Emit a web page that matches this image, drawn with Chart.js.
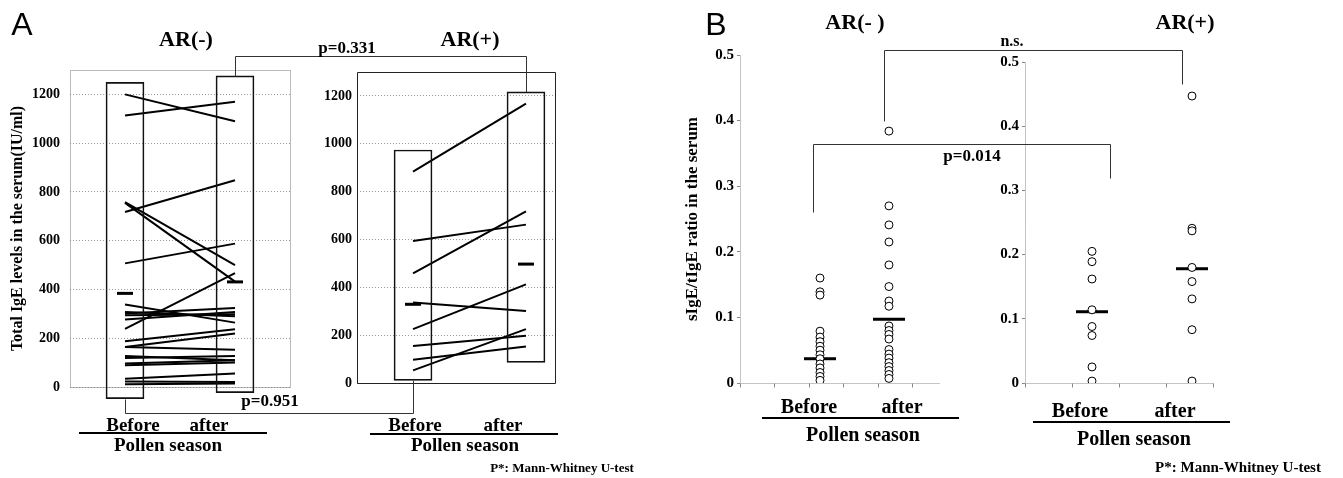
<!DOCTYPE html>
<html>
<head>
<meta charset="utf-8">
<script src="https://cdn.jsdelivr.net/npm/chart.js@4.4.1/dist/chart.umd.min.js"></script>
<style>
  body { margin: 0; background: #fff; width: 1343px; height: 478px; overflow: hidden; position: relative;
         font-family: "Liberation Serif", "DejaVu Serif", serif; }
  canvas { position: absolute; }
  .t { position: absolute; transform: translate(-50%, -50%); font-weight: bold; white-space: nowrap; color: #000; line-height: 1; }
  .u { position: absolute; height: 2px; background: #000; }
</style>
</head>
<body>
<canvas id="al" width="300" height="420" style="left:0;top:0"></canvas>
<canvas id="ar" width="270" height="420" style="left:290px;top:0"></canvas>
<canvas id="bl" width="265" height="400" style="left:680px;top:0"></canvas>
<canvas id="br" width="235" height="400" style="left:985px;top:0"></canvas>
<canvas id="ov" width="1343" height="478" style="left:0;top:0;pointer-events:none"></canvas>

<div class="t" style="left:22px;top:24px;font:32px 'Liberation Sans',sans-serif">A</div>
<div class="t" style="left:716px;top:24px;font:32px 'Liberation Sans',sans-serif">B</div>

<div class="t" style="left:186px;top:39px;font-size:22px">AR(-)</div>
<div class="t" style="left:470px;top:39px;font-size:22px">AR(+)</div>
<div class="t" style="left:347px;top:47px;font-size:17px">p=0.331</div>
<div class="t" style="left:270px;top:400px;font-size:17px">p=0.951</div>

<div class="t" style="left:133px;top:424px;font-size:19px">Before</div>
<div class="t" style="left:209px;top:424px;font-size:19px">after</div>
<div class="u" style="left:79px;top:432px;width:188px"></div>
<div class="t" style="left:168px;top:444px;font-size:19px">Pollen season</div>

<div class="t" style="left:415px;top:424px;font-size:19px">Before</div>
<div class="t" style="left:503px;top:424px;font-size:19px">after</div>
<div class="u" style="left:370px;top:433px;width:188px"></div>
<div class="t" style="left:465px;top:444px;font-size:19px">Pollen season</div>
<div class="t" style="left:562px;top:467px;font-size:13px">P*: Mann-Whitney U-test</div>

<div class="t" style="left:855px;top:22px;font-size:22px">AR(- )</div>
<div class="t" style="left:1185px;top:22px;font-size:22px">AR(+)</div>
<div class="t" style="left:1012px;top:41px;font-size:16px">n.s.</div>
<div class="t" style="left:972px;top:155px;font-size:17px">p=0.014</div>

<div class="t" style="left:809px;top:406px;font-size:20px">Before</div>
<div class="t" style="left:902px;top:406px;font-size:20px">after</div>
<div class="u" style="left:762px;top:417px;width:197px"></div>
<div class="t" style="left:863px;top:434px;font-size:20px">Pollen season</div>

<div class="t" style="left:1080px;top:410px;font-size:20px">Before</div>
<div class="t" style="left:1175px;top:410px;font-size:20px">after</div>
<div class="u" style="left:1033px;top:421px;width:197px"></div>
<div class="t" style="left:1134px;top:438px;font-size:20px">Pollen season</div>
<div class="t" style="left:1238px;top:467px;font-size:15px">P*: Mann-Whitney U-test</div>

<script>
'use strict';

// x positions: Before = 1, after = 2
const seasons = ['Before', 'after'];

// Panel A: total IgE (IU/ml), one pair per subject
const igeNegBefore = [1200, 1113, 718, 758, 755, 507, 238, 338, 308, 301, 294, 277, 188, 164, 164, 127, 119, 96, 89, 34, 23, 11];
const igeNegAfter  = [1090, 1170, 848, 500, 432, 588, 467, 264, 290, 324, 298, 308, 237, 219, 153, 110, 127, 110, 100, 55, 21, 14];
const igePosBefore = [884, 594, 458, 337, 225, 155, 97, 53];
const igePosAfter  = [1168, 662, 717, 301, 412, 198, 153, 225];
const igeNegMedian = [384, 431];
const igePosMedian = [329, 497];
const igeNegRange = [[-48, 1249], [-23, 1276]];
const igePosRange = [[11, 974], [86, 1217]];
const igeTicks = [0, 200, 400, 600, 800, 1000, 1200];

// Panel B: sIgE/tIgE ratio
const ratioNegBefore = [0.160, 0.139, 0.134, 0.079, 0.070, 0.063, 0.056, 0.050, 0.043, 0.037, 0.029, 0.023, 0.016, 0.010, 0.004];
const ratioNegAfter  = [0.384, 0.270, 0.241, 0.215, 0.180, 0.147, 0.125, 0.117, 0.087, 0.080, 0.074, 0.067, 0.051, 0.044, 0.038, 0.031, 0.025, 0.019, 0.013, 0.007];
const ratioPosBefore = [0.205, 0.189, 0.162, 0.114, 0.088, 0.074, 0.025, 0.003];
const ratioPosAfter  = [0.447, 0.241, 0.237, 0.180, 0.158, 0.131, 0.083, 0.003];
const ratioNegMedian = [0.037, 0.097];
const ratioPosMedian = [0.111, 0.178];
const ratioTicks = [0, 0.1, 0.2, 0.3, 0.4, 0.5];

const SERIF = '"Liberation Serif", "DejaVu Serif", serif';

// draws the plot frame (all sides or left+bottom only), plus small x tick marks
const frame = {
  id: 'frame',
  beforeDatasetsDraw(chart, args, o) {
    const a = chart.chartArea, ctx = chart.ctx;
    ctx.save();
    ctx.strokeStyle = o.color;
    ctx.lineWidth = 1;
    ctx.setLineDash(o.dash || []);
    ctx.beginPath();
    const l = Math.round(a.left) + 0.5, r = Math.round(a.right) + 0.5;
    const t = Math.round(a.top) + 0.5, b = Math.round(a.bottom) + 0.5;
    if (o.all) {
      ctx.rect(l, t, r - l, b - t);
    } else {
      ctx.moveTo(l, t); ctx.lineTo(l, b); ctx.lineTo(r, b);
    }
    ctx.stroke();
    if (o.xTickStep) {
      ctx.setLineDash([]);
      ctx.beginPath();
      const sx = chart.scales.x;
      for (let v = sx.min; v <= sx.max + 1e-6; v += o.xTickStep) {
        const x = Math.round(sx.getPixelForValue(v)) + 0.5;
        ctx.moveTo(x, b); ctx.lineTo(x, b + 4);
      }
      ctx.stroke();
    }
    ctx.restore();
  }
};

function igeChart(id, before, after, median, range, opt) {
  const datasets = [];
  datasets.push({
    type: 'bar',
    data: range.map((r, i) => ({ x: i + 1, y: r })),
    backgroundColor: 'rgba(0,0,0,0)',
    borderColor: '#111',
    borderWidth: 1,
    borderSkipped: false,
    barThickness: 38,
    clip: false
  });
  before.forEach((b, i) => {
    datasets.push({
      type: 'line',
      data: [{ x: 1, y: b }, { x: 2, y: after[i] }],
      borderColor: '#000',
      borderWidth: 2,
      pointRadius: 0
    });
  });
  datasets.push({
    type: 'line',
    showLine: false,
    data: median.map((m, i) => ({ x: i + 1, y: m })),
    pointStyle: 'line',
    pointRadius: 8,
    pointBorderWidth: 3,
    borderWidth: 3,
    borderColor: '#000'
  });

  return new Chart(document.getElementById(id), {
    type: 'line',
    data: { datasets },
    plugins: [frame],
    options: {
      responsive: false,
      animation: false,
      layout: { padding: opt.padding, autoPadding: false },
      plugins: {
        legend: { display: false },
        tooltip: { enabled: false },
        frame: opt.frame
      },
      scales: {
        x: { type: 'linear', display: false, min: opt.xMin, max: opt.xMax, offset: false },
        y: {
          min: 0, max: 1300,
          afterBuildTicks: s => { s.ticks = igeTicks.map(v => ({ value: v })); },
          afterFit: s => { s.width = opt.yWidth; },
          border: { display: false, dash: [1, 2] },
          grid: { color: '#999', drawTicks: false, lineWidth: 1 },
          ticks: {
            color: '#000', padding: opt.tickPad,
            font: { family: SERIF, size: 14, weight: 'bold' },
            callback: v => String(v)
          },
          title: opt.title ? {
            display: true, text: opt.title, color: '#000', padding: { top: 8, bottom: 0 },
            font: { family: SERIF, size: 16, weight: 'bold' }
          } : { display: false }
        }
      }
    }
  });
}

function ratioChart(id, before, after, median, opt) {
  const dots = (x, values) => ({
    type: 'line',
    showLine: false,
    data: values.map(v => ({ x, y: v })),
    pointStyle: 'circle',
    pointRadius: 4,
    pointBorderWidth: 1,
    pointBackgroundColor: '#fff',
    pointBorderColor: '#000'
  });
  const datasets = [
    dots(1, before),
    dots(2, after),
    {
      type: 'line',
      showLine: false,
      data: median.map((m, i) => ({ x: i + 1, y: m })),
      pointStyle: 'line',
      pointRadius: 16,
      pointBorderWidth: 3,
      borderWidth: 3,
      borderColor: '#000'
    }
  ];

  return new Chart(document.getElementById(id), {
    type: 'line',
    data: { datasets },
    plugins: [frame],
    options: {
      responsive: false,
      animation: false,
      layout: { padding: opt.padding, autoPadding: false },
      plugins: {
        legend: { display: false },
        tooltip: { enabled: false },
        frame: { color: '#888', dash: [1, 1], all: false, xTickStep: opt.xTickStep }
      },
      scales: {
        x: { type: 'linear', display: false, min: opt.xMin, max: opt.xMax, offset: false },
        y: {
          min: 0, max: 0.5,
          afterBuildTicks: s => { s.ticks = ratioTicks.map(v => ({ value: v })); },
          afterFit: s => { s.width = opt.yWidth; },
          border: { display: false },
          grid: { drawOnChartArea: false, tickLength: 3, color: '#888' },
          ticks: {
            color: '#000', padding: 3,
            font: { family: SERIF, size: 15, weight: 'bold' },
            callback: v => (v === 0 ? '0' : Number(v).toFixed(1))
          },
          title: opt.title ? {
            display: true, text: opt.title, color: '#000', padding: { top: 2, bottom: 0 },
            font: { family: SERIF, size: 17, weight: 'bold' }
          } : { display: false }
        }
      }
    }
  });
}

const cAL = igeChart('al', igeNegBefore, igeNegAfter, igeNegMedian, igeNegRange, {
  padding: { top: 70, right: 10, bottom: 33, left: 0 },
  xMin: 0.5, xMax: 2.5, yWidth: 70, tickPad: 10,
  title: 'Total IgE levels in the serum(IU/ml)',
  frame: { color: '#777', dash: [1, 1], all: true }
});
const cAR = igeChart('ar', igePosBefore, igePosAfter, igePosMedian, igePosRange, {
  padding: { top: 72, right: 5, bottom: 37, left: 0 },
  xMin: 0.504, xMax: 2.257, yWidth: 67, tickPad: 5,
  frame: { color: '#222', dash: [], all: true }
});
const cBL = ratioChart('bl', ratioNegBefore, ratioNegAfter, ratioNegMedian, {
  padding: { top: 55, right: 5, bottom: 17, left: 0 },
  xMin: -0.16, xMax: 2.74, yWidth: 60, xTickStep: 0.5,
  title: 'sIgE/tIgE ratio in the serum'
});
const cBR = ratioChart('br', ratioPosBefore, ratioPosAfter, ratioPosMedian, {
  padding: { top: 62, right: 7, bottom: 17, left: 0 },
  xMin: 0.33, xMax: 2.21, yWidth: 40, xTickStep: 0.47
});

// significance brackets, anchored on the charts' own scales
const off = { al: 0, ar: 290, bl: 680, br: 985 };
const px = (c, k, v) => off[k] + c.scales.x.getPixelForValue(v);
const py = (c, v) => c.scales.y.getPixelForValue(v);

const ov = document.getElementById('ov').getContext('2d');
ov.strokeStyle = '#333';
ov.lineWidth = 1;
function bracket(pts) {
  ov.beginPath();
  pts.forEach((p, i) => {
    const x = Math.round(p[0]) + 0.5, y = Math.round(p[1]) + 0.5;
    if (i === 0) ov.moveTo(x, y); else ov.lineTo(x, y);
  });
  ov.stroke();
}

// p=0.331 : AR(-) after vs AR(+) after
bracket([[px(cAL, 'al', 2), py(cAL, igeNegRange[1][1])], [px(cAL, 'al', 2), 56],
         [px(cAR, 'ar', 2), 56], [px(cAR, 'ar', 2), py(cAR, igePosRange[1][1])]]);
// p=0.951 : AR(-) before vs AR(+) before
bracket([[px(cAL, 'al', 1), py(cAL, igeNegRange[0][0])], [px(cAL, 'al', 1), 413],
         [px(cAR, 'ar', 1), 413], [px(cAR, 'ar', 1), py(cAR, igePosRange[0][0])]]);
// p=0.014 : before, AR(-) vs AR(+)
const yTop014 = py(cBL, 0.365);
bracket([[px(cBL, 'bl', 1) - 7, py(cBL, 0.26)], [px(cBL, 'bl', 1) - 7, yTop014],
         [px(cBR, 'br', 1) + 18, yTop014], [px(cBR, 'br', 1) + 18, py(cBR, 0.32)]]);
// n.s. : after, AR(-) vs AR(+)
bracket([[px(cBL, 'bl', 2) - 5, py(cBL, 0.40)], [px(cBL, 'bl', 2) - 5, 50],
         [px(cBR, 'br', 2) - 10, 50], [px(cBR, 'br', 2) - 10, py(cBR, 0.465)]]);
</script>
</body>
</html>
